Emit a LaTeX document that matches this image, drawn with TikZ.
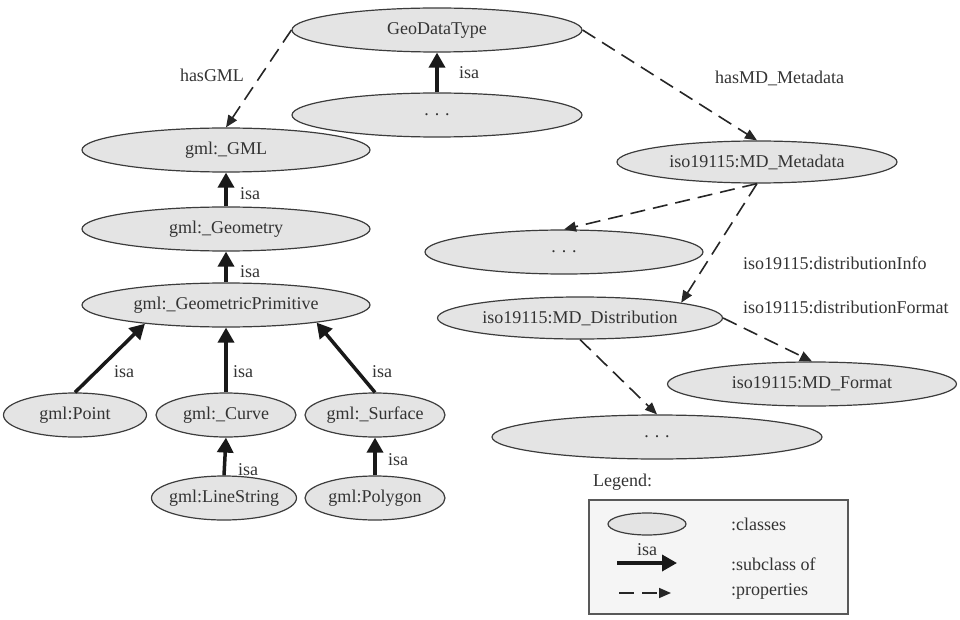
\documentclass[tikz,border=0pt]{standalone}
\usepackage{fontspec}
\setmainfont{Liberation Serif}
\usetikzlibrary{shapes.geometric, arrows.meta}

\definecolor{clsfill}{HTML}{E4E4E4}
\definecolor{clsline}{HTML}{3C3C3C}
\definecolor{txt}{HTML}{333333}

\begin{document}
\begin{tikzpicture}[x=1pt, y=-1pt,
    every node/.style={font=\fontsize{18}{21}\selectfont, text=txt},
    cls/.style={ellipse, draw=clsline, fill=clsfill, line width=1.2pt, inner sep=0pt,
        minimum width=#1, minimum height=44pt,
        execute at begin node=\hbox to 0pt\bgroup\hss, execute at end node=\hss\egroup},
    cls/.default=288pt,
    isa/.style={-{Triangle[length=15pt, width=16pt]}, line width=3.5pt, draw=black!90},
    prop/.style={-{Triangle[length=12pt, width=10pt]}, line width=1.6pt, draw=black!85, dash pattern=on 15pt off 8pt},
    lbl/.style={inner sep=0pt}
]
    \useasboundingbox (0,0) rectangle (960,620);

    \node[cls=290pt] (geo) at (437,30) {GeoDataType};
    \node[cls=290pt] (geodots) at (437,115) {. . .};
    \node[cls] (gml) at (226,150) {gml:\_GML};
    \node[cls] (geom) at (226,229) {gml:\_Geometry};
    \node[cls] (prim) at (226,305) {gml:\_GeometricPrimitive};
    \node[cls=143pt] (point) at (75,415) {gml:Point};
    \node[cls=140pt] (curve) at (226,415) {gml:\_Curve};
    \node[cls=140pt] (surface) at (375,415) {gml:\_Surface};
    \node[cls=145pt] (linestr) at (224,498) {gml:LineString};
    \node[cls=140pt] (polygon) at (375,498) {gml:Polygon};

    \node[cls=280pt, minimum height=42pt] (meta) at (757,162) {iso19115:MD\_Metadata};
    \node[cls=278pt] (infodots) at (564,252) {. . .};
    \node[cls=285pt, minimum height=42pt] (dist) at (580,318) {iso19115:MD\_Distribution};
    \node[cls=289pt] (format) at (812,384) {iso19115:MD\_Format};
    \node[cls=330pt] (distdots) at (657,437) {. . .};

    \draw[isa] (geodots) -- (geo);
    \draw[isa] (geom) -- (gml);
    \draw[isa] (prim) -- (geom);
    \draw[isa] (point.north) -- (prim.193);
    \draw[isa] (curve) -- (prim);
    \draw[isa] (surface.north) -- (prim.349);
    \draw[isa] (linestr.north) -- (curve.south);
    \draw[isa] (polygon) -- (surface);

    \node[lbl] (lgeo) at (469,73) {isa};
    \node[lbl] (lgml) at (250,194) {isa};
    \node[lbl] (lgeom) at (250,272) {isa};
    \node[lbl] (lpoint) at (124,372) {isa};
    \node[lbl] (lcurve) at (243,372) {isa};
    \node[lbl] (lsurf) at (382,372) {isa};
    \node[lbl] (lline) at (248,470) {isa};
    \node[lbl] (lpoly) at (398,460) {isa};

    \draw[prop] (geo.west) -- (gml.north);
    \draw[prop] (geo.east) -- (meta.north);
    \draw[prop] (meta.south) -- (infodots.north);
    \draw[prop] (meta.south) -- (dist.north east);
    \draw[prop] (dist.east) -- (format.north);
    \draw[prop] (dist.south) -- (distdots.north);

    \node[lbl] (lhasgml) at (212,75) {hasGML};
    \node[lbl, anchor=west] (lhasmd) at (715,78) {hasMD\_Metadata};
    \node[lbl, anchor=west] (linfo) at (743,263) {iso19115:distributionInfo};
    \node[lbl, anchor=west] (lformat) at (743,307) {iso19115:distributionFormat};

    \node[lbl, anchor=west] (leghead) at (593,482) {Legend:};
    \draw[line width=1.5pt, draw=black!65, fill=black!4] (589,500) rectangle (848,614);
    \node[cls=78pt, minimum height=22pt] (legcls) at (647,524) {};
    \coordinate (isaa) at (617,563);
    \coordinate (isab) at (677,563);
    \coordinate (propa) at (619,593);
    \coordinate (propb) at (671,593);
    \draw[isa] (isaa) -- (isab);
    \draw[prop] (propa) -- (propb);
    \node[lbl] (legisa) at (647,550) {isa};
    \node[lbl, anchor=west] (legtxta) at (731,524) {:classes};
    \node[lbl, anchor=west] (legtxtb) at (731,564) {:subclass of};
    \node[lbl, anchor=west] (legtxtc) at (731,591) {:properties};
\end{tikzpicture}
\end{document}
